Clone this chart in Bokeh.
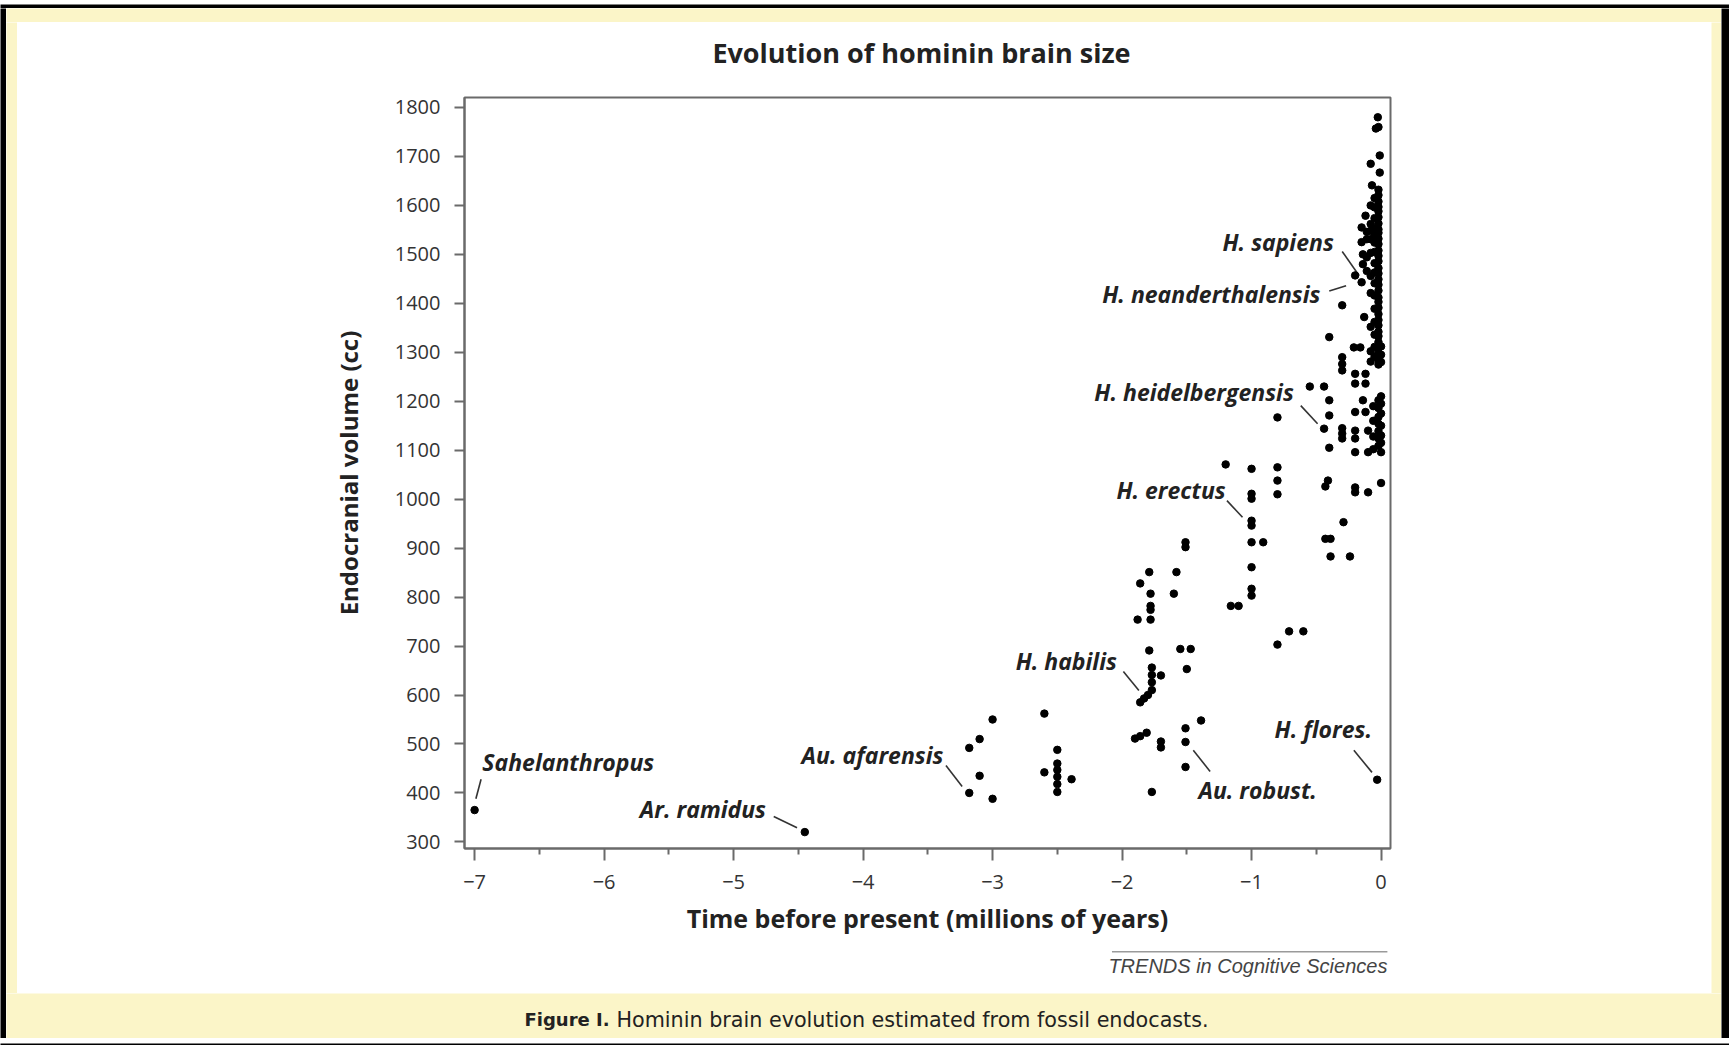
from bokeh.plotting import figure
from bokeh.layouts import column, row
from bokeh.models import FixedTicker, Label, ColumnDataSource, Range1d
from bokeh.embed import file_html
from bokeh.resources import INLINE

# ---------------- data ----------------
time_mya = [
    -7.00, -4.45,
    -3.18, -3.10, -3.18, -3.10, -3.00, -3.00,
    -2.60, -2.60, -2.50, -2.50, -2.50, -2.50, -2.50, -2.50, -2.39,
    -1.79, -1.86, -1.78, -1.78, -1.78, -1.88, -1.78, -1.79, -1.77, -1.77, -1.70, -1.77, -1.77,
    -1.80, -1.83, -1.86, -1.90, -1.86, -1.81, -1.70, -1.70, -1.77,
    -1.58, -1.60, -1.55, -1.47, -1.50, -1.51, -1.51, -1.39, -1.51, -1.51, -1.51,
    -1.20, -1.16, -1.10, -1.00, -1.00, -1.00, -1.00, -1.00, -1.00, -0.91, -1.00, -1.00, -1.00,
    -0.80, -0.80, -0.80, -0.80, -0.80, -0.71, -0.60,
    -0.55, -0.44, -0.40, -0.40, -0.44, -0.40, -0.41, -0.43, -0.43, -0.39, -0.39, -0.24, -0.29,
    -0.40, -0.30, -0.30, -0.30, -0.30, -0.30, -0.30, -0.30,
    -0.20, -0.20, -0.12, -0.12, -0.20, -0.12, -0.10, -0.20, -0.20, -0.20, -0.10, -0.14, -0.20,
    -0.20, -0.10, -0.21, -0.16, -0.13, -0.20, -0.15, -0.15, -0.15, -0.14, -0.14, -0.12,
    -0.03,
    -0.025, -0.04, -0.02, -0.01, -0.08, -0.01, -0.07, -0.08,
    -0.02, -0.02, -0.02, -0.02, -0.02, -0.02, -0.02, -0.02, -0.02, -0.02, -0.02, -0.02, -0.02,
    -0.02, -0.02, -0.02, -0.02, -0.02, -0.02, -0.02, -0.02, -0.02, -0.02, -0.02, -0.02, -0.02,
    -0.02, -0.02, -0.02, -0.02, -0.02, -0.02,
    -0.05, -0.05, -0.05, -0.05, -0.05, -0.05, -0.05, -0.05, -0.05, -0.05, -0.05, -0.05, -0.05,
    -0.05, -0.05, -0.05,
    -0.08, -0.08, -0.08, -0.08, -0.08, -0.08, -0.08, -0.08, -0.08,
    -0.11, -0.11, -0.11, -0.11,
    0.00, 0.00, 0.00, 0.00, 0.00, 0.00, 0.00, 0.00, 0.00, 0.00, 0.00,
    -0.02, -0.02, -0.02, -0.02, -0.02, -0.02, -0.02,
    -0.06, -0.06, -0.06, -0.06,
]
volume_cc = [
    365, 320,
    400, 435, 492, 510, 550, 388,
    562, 442, 488, 460, 447, 433, 418, 402, 428,
    851, 828, 807, 782, 774, 754, 754, 691, 656, 641, 640, 626, 610,
    600, 593, 585, 511, 516, 523, 505, 493, 402,
    851, 807, 694, 694, 653, 912, 902, 548, 532, 504, 453,
    1071, 782, 782, 1062, 1011, 1001, 956, 946, 912, 912, 861, 817, 803,
    1167, 1065, 1038, 1010, 703, 730, 730,
    1230, 1230, 1202, 1171, 1144, 1105, 1038, 1026, 919, 919, 883, 883, 953,
    1331, 1396, 1290, 1276, 1263, 1145, 1134, 1124,
    1256, 1236, 1256, 1236, 1178, 1178, 1140, 1140, 1124, 1096, 1096, 1202, 1024,
    1014, 1014, 1310, 1310, 1372, 1457, 1443, 1555, 1525, 1500, 1480, 1579,
    427,
    1780, 1757, 1760, 1702, 1685, 1667, 1641, 1600,
    1632, 1621, 1608, 1597, 1588, 1576, 1563, 1551, 1544, 1532, 1521, 1508, 1497,
    1486, 1472, 1461, 1449, 1438, 1426, 1412, 1403, 1391, 1378, 1366, 1355, 1342,
    1333, 1321, 1309, 1298, 1286, 1275,
    1615, 1596, 1574, 1553, 1539, 1524, 1505, 1482, 1463, 1441, 1416, 1389, 1362,
    1336, 1311, 1291,
    1562, 1548, 1531, 1503, 1456, 1421, 1352, 1302, 1281,
    1546, 1531, 1494, 1466,
    1312, 1295, 1280, 1210, 1195, 1175, 1150, 1130, 1115, 1096, 1033,
    1202, 1186, 1168, 1154, 1139, 1124, 1109,
    1190, 1160, 1128, 1102,
]

x_ticks = [-7, -6, -5, -4, -3, -2, -1, 0]
x_tick_labels = ["\u22127", "\u22126", "\u22125", "\u22124", "\u22123", "\u22122", "\u22121", "0"]
x_minor_ticks = [-6.5, -5.5, -4.5, -3.5, -2.5, -1.5, -0.5]
y_ticks = [300, 400, 500, 600, 700, 800, 900, 1000, 1100, 1200, 1300, 1400, 1500, 1600, 1700, 1800]

taxon_names = ["Sahelanthropus", "Ar. ramidus", "Au. afarensis", "H. habilis", "Au. robust.",
               "H. flores.", "H. erectus", "H. heidelbergensis", "H. neanderthalensis", "H. sapiens"]
taxon_x = [-6.94, -4.75, -3.38, -2.04, -1.41, -0.07, -1.20, -0.674, -0.468, -0.365]
taxon_y = [464, 368, 478, 670, 406, 531, 1018, 1218, 1419, 1526]
taxon_align = ["left", "right", "right", "right", "left", "right", "right", "right", "right", "right"]
leader_x0 = [-6.99, -4.69, -3.36, -1.99, -1.45, -0.21, -1.19, -0.62, -0.40, -0.30]
leader_y0 = [388, 352, 456, 648, 487, 487, 997, 1191, 1425, 1506]
leader_x1 = [-6.95, -4.51, -3.235, -1.87, -1.32, -0.07, -1.07, -0.49, -0.27, -0.17]
leader_y1 = [428, 329, 413, 609, 444, 442, 963, 1154, 1436, 1457]

TITLE = "Evolution of hominin brain size"
X_TITLE = "Time before present (millions of years)"
Y_TITLE = "Endocranial volume (cc)"
SOURCE = "TRENDS in Cognitive Sciences"
CAPTION_BOLD = "Figure I."
CAPTION_TEXT = "Hominin brain evolution estimated from fossil endocasts."

# ---------------- styling ----------------
CREAM = "#FBF5C8"
BLACK = "#000000"
AXIS_GREY = "#6a6a6a"
FONT = "Open Sans"
X_START, X_END = -7.078, 0.073
BORDER_L, BORDER_R = 447, 321


def block(w, h, color):
    f = figure(width=w, height=h, output_backend="svg", toolbar_location=None,
               x_axis_type=None, y_axis_type=None, min_border=0,
               x_range=Range1d(0, w), y_range=Range1d(h, 0))
    f.background_fill_color = color
    f.border_fill_color = color
    f.outline_line_color = None
    return f


def white_strip(h):
    # same horizontal frame as the main chart, so the columns line up
    f = figure(width=1694, height=h, output_backend="svg", toolbar_location=None,
               x_axis_type=None, y_axis_type=None,
               min_border_left=BORDER_L, min_border_right=BORDER_R,
               min_border_top=0, min_border_bottom=0,
               x_range=Range1d(X_START, X_END), y_range=Range1d(h, 0))
    f.background_fill_color = "white"
    f.border_fill_color = "white"
    f.outline_line_color = None
    return f


# ---- title strip (white) ----
title_fig = white_strip(50)
title_fig.add_layout(Label(x=-3.549, y=30, text=TITLE, text_align="center", text_baseline="middle",
                           text_font=FONT, text_font_style="bold", text_font_size="27px",
                           text_color="#222222"))

# ---- main chart ----
p = figure(width=1694, height=878, output_backend="svg", toolbar_location=None,
           x_range=Range1d(X_START, X_END), y_range=Range1d(286.5, 1820.4),
           min_border_left=BORDER_L, min_border_right=BORDER_R,
           min_border_top=25, min_border_bottom=102)
p.border_fill_color = "white"
p.background_fill_color = "white"
p.outline_line_color = AXIS_GREY
p.outline_line_width = 2
p.grid.visible = False

for ax in (p.xaxis[0], p.yaxis[0]):
    ax.axis_line_color = AXIS_GREY
    ax.axis_line_width = 2
    ax.major_tick_line_color = AXIS_GREY
    ax.major_tick_line_width = 2
    ax.minor_tick_line_color = AXIS_GREY
    ax.minor_tick_line_width = 2
    ax.major_tick_in = 0
    ax.minor_tick_in = 0
    ax.major_label_text_font = FONT
    ax.major_label_text_font_size = "20px"
    ax.major_label_text_color = "#333333"
    ax.axis_label_text_font = FONT
    ax.axis_label_text_font_style = "bold"
    ax.axis_label_text_color = "#222222"

p.xaxis.axis_label_text_font_size = "25px"
p.yaxis.axis_label_text_font_size = "24px"

p.xaxis.ticker = FixedTicker(ticks=x_ticks, minor_ticks=x_minor_ticks)
p.xaxis.major_label_overrides = dict(zip(x_ticks, x_tick_labels))
p.xaxis.major_tick_out = 12
p.xaxis.minor_tick_out = 6
p.xaxis.major_label_standoff = 14
p.xaxis.axis_label = X_TITLE
p.xaxis.axis_label_standoff = 9

p.yaxis.ticker = FixedTicker(ticks=y_ticks, minor_ticks=[])
p.yaxis.major_tick_out = 10
p.yaxis.minor_tick_out = 0
p.yaxis.major_label_standoff = 14
p.yaxis.axis_label = Y_TITLE
p.yaxis.axis_label_standoff = 27

# leader lines
p.segment(x0=leader_x0, y0=leader_y0, x1=leader_x1, y1=leader_y1,
          line_color="#333333", line_width=1.6)

# points
src = ColumnDataSource(data=dict(t=time_mya, v=volume_cc))
p.scatter("t", "v", source=src, size=7.5, fill_color="black", line_color="black")

# taxon labels
for name, lx, ly, al in zip(taxon_names, taxon_x, taxon_y, taxon_align):
    p.add_layout(Label(x=lx, y=ly, text=name, text_align=al, text_baseline="middle",
                       text_font=FONT, text_font_style="bold italic",
                       text_font_size="23px", text_color="#222222"))

# ---- source strip (white) ----
src_fig = white_strip(43)
src_fig.segment(x0=[-2.078], y0=[1.2], x1=[0.049], y1=[1.2], line_color="#9a9a9a", line_width=1.5)
src_fig.add_layout(Label(x=0.049, y=15, text=SOURCE, text_align="right", text_baseline="middle",
                         text_font="Liberation Sans", text_font_style="italic",
                         text_font_size="20px", text_color="#444444"))

# ---- caption band (cream) ----
cap_fig = block(1715, 45, CREAM)
cap_fig.add_layout(Label(x=518, y=26, text=CAPTION_BOLD, text_align="left", text_baseline="middle",
                         text_font="DejaVu Sans", text_font_style="bold",
                         text_font_size="18px", text_color="#222222"))
cap_fig.add_layout(Label(x=610, y=26, text=CAPTION_TEXT, text_align="left", text_baseline="middle",
                         text_font="DejaVu Sans", text_font_size="20.7px", text_color="#222222"))

# ---- page assembly ----
white_col = column(title_fig, p, src_fig, spacing=0)
mid_row = row(block(11, 971, CREAM), white_col, block(10, 971, CREAM), spacing=0)
inner = column(block(1715, 14, CREAM), mid_row, cap_fig, spacing=0)
page = column(block(1729, 8, BLACK),
              row(block(6, 1030, BLACK), inner, block(8, 1030, BLACK), spacing=0),
              block(1729, 7, BLACK), spacing=0)

open("out.html", "w").write(file_html(page, INLINE))
